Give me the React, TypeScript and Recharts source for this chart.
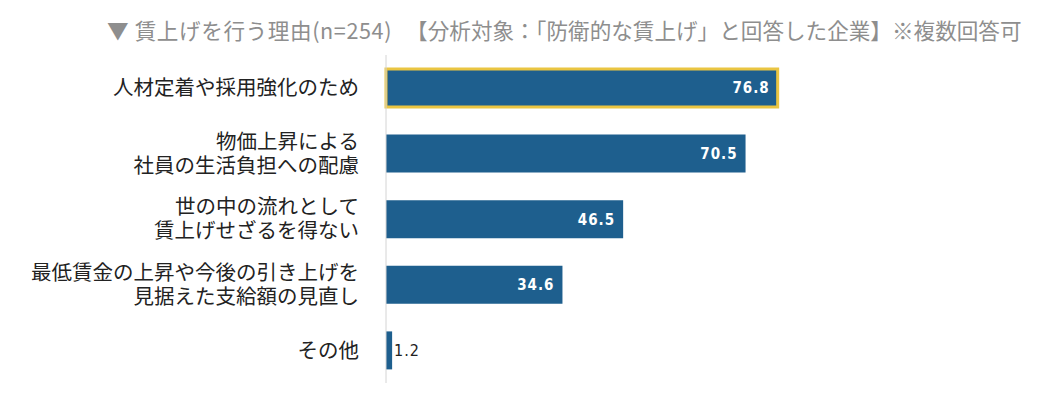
import { BarChart, Bar, XAxis, YAxis, Cell, LabelList } from 'recharts';

const reasons = [
  '人材定着や採用強化のため',
  '物価上昇による\n社員の生活負担への配慮',
  '世の中の流れとして\n賃上げせざるを得ない',
  '最低賃金の上昇や今後の引き上げを\n見据えた支給額の見直し',
  'その他',
];
const shares = [76.8, 70.5, 46.5, 34.6, 1.2];

const titleLead = '▼ 賃上げを行う理由(n=254)';
const titleRest = '【分析対象：「防衛的な賃上げ」と回答した企業】※複数回答可';

const data = reasons.map((reason, i) => ({ reason, share: shares[i] }));

const BAR = '#1e5f8e';
const GOLD = '#eac542';
const JP = '"Noto Sans CJK JP", "Noto Sans", sans-serif';

function ReasonTick({ x, y, payload }: any) {
  const lines = String(payload.value).split('\n');
  const lh = 24;
  const start = y - ((lines.length - 1) * lh) / 2;
  return (
    <text x={x - 19} y={start} textAnchor="end" fontFamily={JP} fontSize={20.5} fill="#222">
      {lines.map((l, i) => (
        <tspan key={i} x={x - 19} y={start + i * lh} dy="0.36em">
          {l}
        </tspan>
      ))}
    </text>
  );
}

function ValueLabel({ x, y, width, height, value }: any) {
  const small = value < 5;
  return (
    <text
      x={small ? x + width + 2 : x + width - 8}
      y={y + height / 2}
      dy="0.36em"
      textAnchor={small ? 'start' : 'end'}
      fontFamily='"DejaVu Sans Condensed", "DejaVu Sans", sans-serif'
      fontWeight={small ? 400 : 700}
      fontSize={small ? 16 : 15}
      letterSpacing={1}
      fill={small ? '#222' : '#fff'}
    >
      {value.toFixed(1)}
    </text>
  );
}

export default function App() {
  return (
    <div style={{ position: 'relative', width: 1054, height: 398, margin: -8, background: '#fff' }}>
      <div
        style={{
          position: 'absolute',
          left: 107,
          top: 16,
          fontFamily: JP,
          fontSize: 21.6,
          color: '#8e8e8e',
          whiteSpace: 'nowrap',
          lineHeight: '28px',
        }}
      >
        <span style={{ letterSpacing: 0.6 }}>{titleLead}</span>
        <span style={{ marginLeft: 14 }}>{titleRest}</span>
      </div>
      <BarChart
        width={1054}
        height={398}
        data={data}
        layout="vertical"
        margin={{ top: 55, right: 158, bottom: 15, left: 0 }}
        barSize={38}
      >
        <XAxis type="number" domain={[0, 100]} hide />
        <YAxis
          type="category"
          dataKey="reason"
          width={386}
          tick={<ReasonTick />}
          tickLine={false}
          axisLine={{ stroke: '#d4d4d4' }}
          interval={0}
        />
        <Bar dataKey="share" fill={BAR} isAnimationActive={false}>
          {data.map((d, i) => (
            <Cell key={d.reason} fill={BAR} stroke={i === 0 ? GOLD : 'none'} strokeWidth={i === 0 ? 3 : 0} />
          ))}
          <LabelList dataKey="share" content={<ValueLabel />} />
        </Bar>
      </BarChart>
    </div>
  );
}
